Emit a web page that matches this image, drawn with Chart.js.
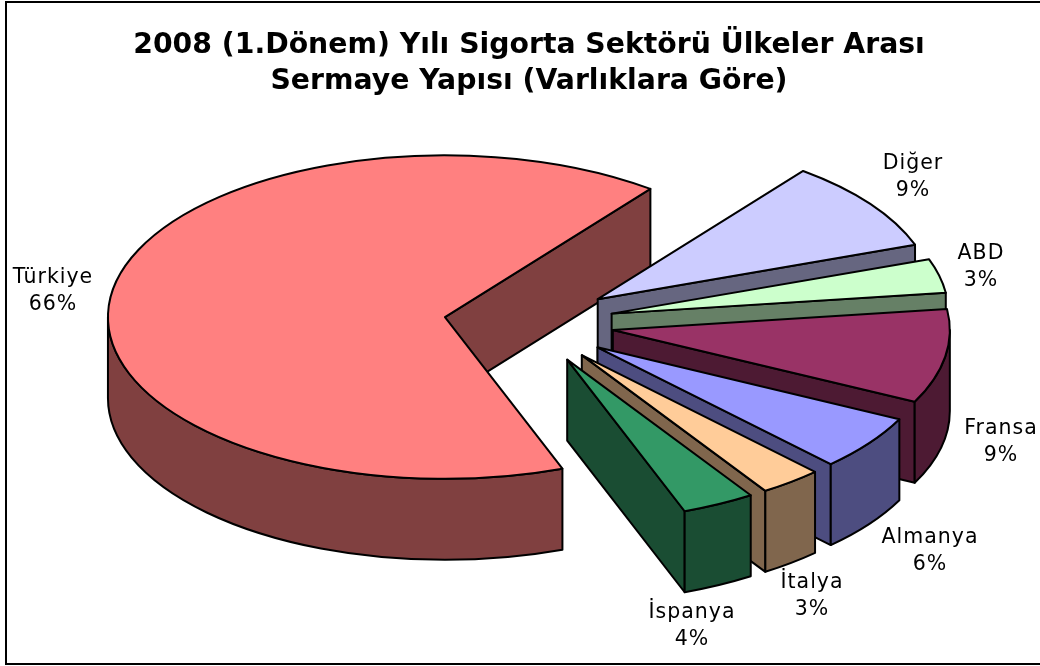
<!DOCTYPE html>
<html lang="tr">
<head>
  <meta charset="UTF-8" />
  <title>Sigorta Sektörü Sermaye Yapısı</title>
  <script src="https://cdn.jsdelivr.net/npm/chart.js"></script>
  <style>
    html, body { margin: 0; padding: 0; background: #fff; overflow: hidden; }
    #wrap { position: relative; width: 1040px; height: 666px; }
  </style>
</head>
<body>
  <div id="wrap"><canvas id="chart1"></canvas></div>

  <script>
    // Values, slices run clockwise from Türkiye
    const categories = ['Türkiye', 'Diğer', 'ABD', 'Fransa', 'Almanya', 'İtalya', 'İspanya'];
    const shares = [66.1, 9.1, 3.4, 9.4, 5.5, 3.0, 3.5];
    const topColors = ['#FF8080', '#CCCCFF', '#CCFFCC', '#993366', '#9999FF', '#FFCC99', '#339966'];
    const wallColors = ['#804040', '#666680', '#668066', '#4D1A33', '#4D4D80', '#80664D', '#1A4D33'];
    const titleLines = ['2008 (1.Dönem) Yılı Sigorta Sektörü Ülkeler Arası', 'Sermaye Yapısı (Varlıklara Göre)'];

    // Label anchors (centre of the text block)
    const labelX = [53, 913, 981, 1001, 930, 812, 692];
    const labelY = [291, 177, 267, 442, 551, 596, 626];

    const squash = 0.48;    // ry / rx of the tilted pie
    const depth = 81;       // wall height in px

    // Fake 3D: takes the arcs Chart.js laid out and paints them as extruded ellipses
    const pie3d = {
      id: 'pie3d',
      beforeDatasetsDraw(chart) {
        const ctx = chart.ctx;
        const arcs = chart.getDatasetMeta(0).data;
        ctx.save();
        ctx.lineWidth = 2;
        ctx.lineJoin = 'round';
        ctx.strokeStyle = '#000';

        arcs.forEach((arc, i) => {
          const { startAngle: a0, endAngle: a1, outerRadius: rx, x, y } = arc;
          const off = arc.options.offset;
          const mid = (a0 + a1) / 2;
          const cx = x + Math.cos(mid) * off;
          const cy = y + Math.sin(mid) * off * squash;
          const ry = rx * squash;

          const face = (a) => {
            ctx.beginPath();
            ctx.moveTo(cx, cy);
            ctx.lineTo(cx + rx * Math.cos(a), cy + ry * Math.sin(a));
            ctx.lineTo(cx + rx * Math.cos(a), cy + ry * Math.sin(a) + depth);
            ctx.lineTo(cx, cy + depth);
            ctx.closePath();
            ctx.fillStyle = wallColors[i];
            ctx.fill();
            ctx.stroke();
          };

          // cut faces that look towards the viewer
          if (Math.cos(a0) < 0) face(a0);
          if (Math.cos(a1) > 0) face(a1);

          // outer wall, only the front half of the rim
          for (let k = -1; k <= 1; k++) {
            const from = Math.max(a0, k * 2 * Math.PI);
            const to = Math.min(a1, k * 2 * Math.PI + Math.PI);
            if (to <= from) continue;
            ctx.beginPath();
            ctx.ellipse(cx, cy, rx, ry, 0, from, to);
            ctx.lineTo(cx + rx * Math.cos(to), cy + ry * Math.sin(to) + depth);
            ctx.ellipse(cx, cy + depth, rx, ry, 0, to, from, true);
            ctx.closePath();
            ctx.fillStyle = wallColors[i];
            ctx.fill();
            ctx.stroke();
          }

          // top surface
          ctx.beginPath();
          ctx.moveTo(cx, cy);
          ctx.ellipse(cx, cy, rx, ry, 0, a0, a1);
          ctx.closePath();
          ctx.fillStyle = arc.options.backgroundColor;
          ctx.fill();
          ctx.stroke();
        });

        ctx.restore();
        return false; // skip the flat arcs
      },
      afterDraw(chart) {
        // afterDatasetsDraw never fires once beforeDatasetsDraw has returned false
        const ctx = chart.ctx;
        ctx.save();
        ctx.font = '20.5px "DejaVu Sans"';
        ctx.letterSpacing = '1px';
        ctx.fillStyle = '#000';
        ctx.textAlign = 'center';
        ctx.textBaseline = 'middle';
        categories.forEach((name, i) => {
          ctx.fillText(name, labelX[i], labelY[i] - 13.5);
          ctx.fillText(Math.round(shares[i]) + '%', labelX[i], labelY[i] + 13.5);
        });
        ctx.restore();
      },
      beforeDraw(chart) {
        // chart frame, the right side falls outside the picture
        const ctx = chart.ctx;
        ctx.save();
        ctx.fillStyle = '#fff';
        ctx.fillRect(0, 0, chart.width, chart.height);
        ctx.strokeStyle = '#000';
        ctx.lineWidth = 2;
        ctx.strokeRect(6, 2, 1060, 662);
        ctx.restore();
      }
    };

    new Chart(document.getElementById('chart1'), {
      type: 'pie',
      data: {
        labels: categories,
        datasets: [{
          data: shares,
          backgroundColor: topColors,
          offset: 85,
          borderWidth: 0
        }]
      },
      options: {
        responsive: true,
        maintainAspectRatio: false,
        animation: false,
        rotation: 159.6,
        radius: 337,
        layout: { padding: { left: 18, right: 0, top: 0, bottom: 119 } },
        plugins: {
          legend: { display: false },
          tooltip: { enabled: false },
          title: {
            display: true,
            text: titleLines,
            color: '#000',
            font: { family: '"DejaVu Sans"', size: 28.3, weight: 'bold', lineHeight: 1.27 },
            padding: { top: 27.5, bottom: 0 }
          }
        }
      },
      plugins: [pie3d]
    });
  </script>
</body>
</html>
